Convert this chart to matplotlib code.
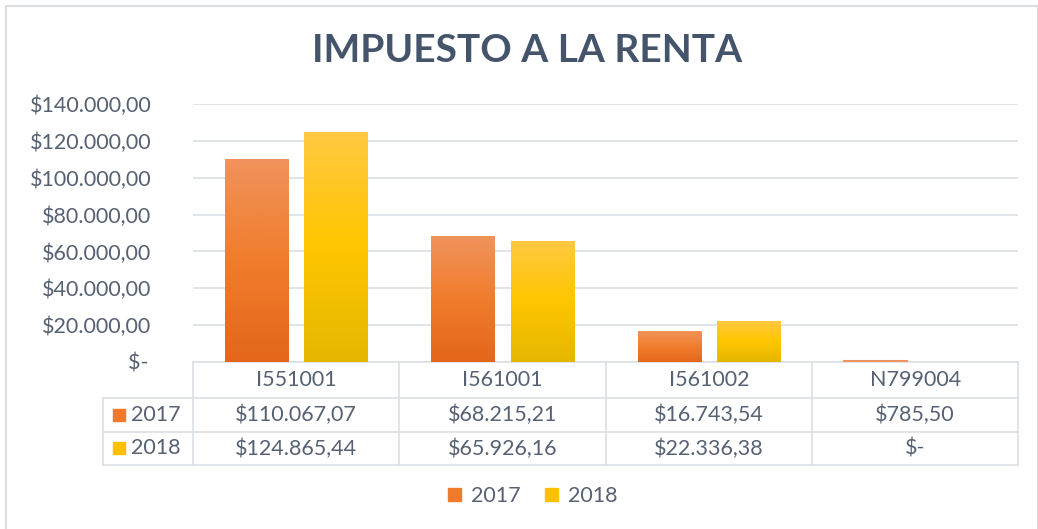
import numpy as np
import matplotlib.pyplot as plt
from matplotlib.colors import to_rgb
from matplotlib.patches import Rectangle
from matplotlib.ticker import FuncFormatter, MultipleLocator

plt.rcParams['font.family'] = ['Lato', 'DejaVu Sans']

# datos
categorias = ['I551001', 'I561001', 'I561002', 'N799004']
anios = ['2017', '2018']
valores_2017 = [110067.07, 68215.21, 16743.54, 785.50]
valores_2018 = [124865.44, 65926.16, 22336.38, 0.0]

TEXTO = '#566173'
GRIS = '#DCDFE4'
FS = 15.5
# degradado: arriba, centro, abajo
grad_2017 = ['#F0935C', '#F07D2C', '#E4661A']
grad_2018 = ['#FFC942', '#FFC600', '#E4B700']
solido = ['#EE7A2E', '#FFC000']


def fmt(v, pos=None):
    if v == 0:
        return '$-\u2009'
    s = f'{v:,.2f}'.replace(',', 'X').replace('.', ',').replace('X', '.')
    return '$' + s


def gradiente(stops, n=256):
    c = np.array([to_rgb(s) for s in stops])
    t = np.linspace(0, 1, n)
    out = np.zeros((n, 1, 3))
    for k in range(3):
        out[:, 0, k] = np.interp(t, [0, 0.5, 1], c[:, k])
    return out


fig = plt.figure(figsize=(10.38, 5.29), dpi=100)
fig.patches.append(Rectangle((0.006, -0.01), 0.994, 0.998, transform=fig.transFigure,
                             fill=False, edgecolor='#D9DCE1', lw=1.5))
ax = fig.add_axes([0.186, 0.3157, 0.795, 0.4877])

x = np.arange(len(categorias))
ancho = 0.306
off = 0.192
for vals, g, d in [(valores_2017, grad_2017, -off), (valores_2018, grad_2018, off)]:
    bars = ax.bar(x + d, vals, ancho, color=g[0], edgecolor=g[0], lw=0, zorder=3)
    img = gradiente(g)
    for b in bars:
        h = b.get_height()
        if h <= 0:
            continue
        if h < 3000:
            # barra muy baja: solo borde visible
            b.set_linewidth(1.5)
            continue
        im = ax.imshow(img, extent=[b.get_x(), b.get_x() + b.get_width(), 0, h],
                       aspect='auto', zorder=3.5, origin='upper')
        im.set_clip_path(b)

ax.set_xlim(-0.5, len(categorias) - 0.5)
ax.set_ylim(0, 140000)
ax.yaxis.set_major_locator(MultipleLocator(20000))
ax.yaxis.set_major_formatter(FuncFormatter(fmt))
ax.grid(axis='y', color=GRIS, lw=1.2, zorder=0)
ax.set_axisbelow(True)
for s in ax.spines.values():
    s.set_visible(False)
ax.set_xticks([])
ax.tick_params(axis='y', length=0, pad=30, labelsize=FS, labelcolor=TEXTO)

fig.text(0.508, 0.905, 'IMPUESTO A LA RENTA', ha='center', va='center', fontsize=28,
         fontweight='bold', color='#44546A')

# tabla de datos
tr = ax.get_xaxis_transform()
filas = [0, -0.1395, -0.271, -0.399]
x_izq = -0.937
bordes = [-0.5, 0.5, 1.5, 2.5, 3.5]
kw = dict(transform=tr, color=GRIS, lw=1.2, clip_on=False)
ax.plot([-0.5, 3.5], [filas[0]] * 2, **kw)
for yy in filas[1:]:
    ax.plot([x_izq, 3.5], [yy] * 2, **kw)
ax.plot([x_izq] * 2, [filas[1], filas[3]], **kw)
for xx in bordes:
    ax.plot([xx] * 2, [filas[0], filas[3]], **kw)

tkw = dict(transform=tr, ha='center', va='center', fontsize=FS, color=TEXTO, clip_on=False)
for i, c in enumerate(categorias):
    ax.text(i, (filas[0] + filas[1]) / 2, c, **tkw)
for r, (nombre, vals) in enumerate([(anios[0], valores_2017), (anios[1], valores_2018)]):
    yc = (filas[r + 1] + filas[r + 2]) / 2
    for i, v in enumerate(vals):
        ax.text(i, yc, fmt(v).strip(), **tkw)
    ax.scatter([-0.858], [yc], marker='s', s=85, color=solido[r], transform=tr,
               clip_on=False, zorder=4)
    ax.text(-0.8, yc, nombre, transform=tr, ha='left', va='center', fontsize=FS,
            color=TEXTO, clip_on=False)

# leyenda
h = [Rectangle((0, 0), 1, 1, color=c) for c in solido]
fig.legend(h, anios, loc='center', bbox_to_anchor=(0.513, 0.062), ncol=2, frameon=False,
           fontsize=FS, labelcolor=TEXTO, handlelength=0.6, handleheight=0.6,
           handletextpad=0.45, columnspacing=1.15)

fig.savefig('out.png', dpi=100)
